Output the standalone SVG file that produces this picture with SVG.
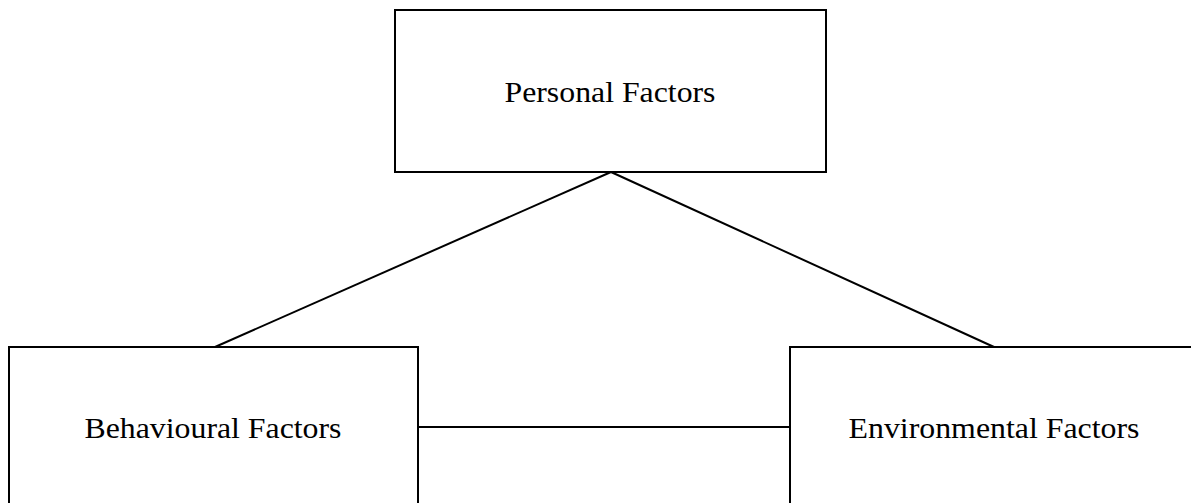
<svg xmlns="http://www.w3.org/2000/svg" width="1191" height="503" viewBox="0 0 1191 503">
<style>
.box{fill:#fff;stroke:#000;stroke-width:2}
.lbl{font-family:"Liberation Serif","Times New Roman",serif;font-size:29px;fill:#000;text-anchor:middle}
.conn{stroke:#000;stroke-width:2;fill:none}
</style>
<rect width="1191" height="503" fill="#fff"/>
<g id="connectors">
<line class="conn" x1="611" y1="172" x2="215" y2="347"/>
<line class="conn" x1="611" y1="172" x2="994" y2="347"/>
<line class="conn" x1="418" y1="427" x2="790" y2="427"/>
</g>
<g id="personal">
<rect class="box" x="395" y="10" width="431" height="162"/>
<text class="lbl" x="610" y="102" textLength="211" lengthAdjust="spacingAndGlyphs">Personal Factors</text>
</g>
<g id="behavioural">
<rect class="box" x="9" y="347" width="409" height="170"/>
<text class="lbl" x="213" y="438" textLength="257" lengthAdjust="spacingAndGlyphs">Behavioural Factors</text>
</g>
<g id="environmental">
<rect class="box" x="790" y="347" width="410" height="170"/>
<text class="lbl" x="994" y="438" textLength="291" lengthAdjust="spacingAndGlyphs">Environmental Factors</text>
</g>
</svg>
